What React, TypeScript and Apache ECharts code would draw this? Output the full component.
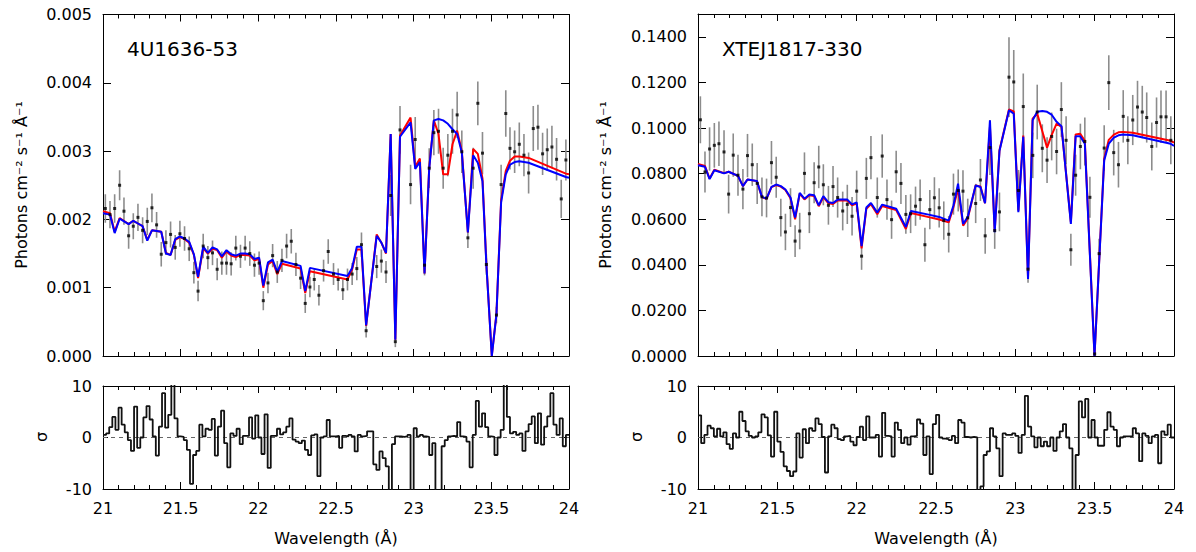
import React, { useEffect, useRef } from "react";
import * as echarts from "echarts";

const FONT = "DejaVu Sans";

// ---------- Left panel: 4U1636-53 (flux in units of 1e-3) ----------
const LEFT_UNIT = 1e-3;
const LEFT_WL = [21.015, 21.045, 21.075, 21.107, 21.135, 21.165, 21.195, 21.225, 21.255, 21.285, 21.315, 21.345, 21.375, 21.405, 21.435, 21.465, 21.495, 21.525, 21.555, 21.585, 21.612, 21.645, 21.675, 21.705, 21.735, 21.765, 21.795, 21.825, 21.855, 21.885, 21.915, 21.945, 21.975, 22.005, 22.032, 22.062, 22.092, 22.122, 22.152, 22.182, 22.212, 22.242, 22.272, 22.302, 22.332, 22.36, 22.39, 22.42, 22.45, 22.484, 22.514, 22.544, 22.574, 22.604, 22.634, 22.664, 22.694, 22.762, 22.792, 22.822, 22.852, 22.882, 22.912, 22.98, 23.01, 23.07, 23.1, 23.13, 23.16, 23.19, 23.22, 23.25, 23.28, 23.31, 23.349, 23.383, 23.413, 23.443, 23.468, 23.533, 23.563, 23.593, 23.62, 23.65, 23.68, 23.71, 23.74, 23.77, 23.8, 23.83, 23.86, 23.89, 23.92, 23.95, 23.98];
const LEFT_FLUX = [2.16, 2.07, 2.16, 2.50, 2.12, 1.76, 1.90, 2.03, 1.84, 1.97, 2.17, 1.92, 1.49, 1.66, 1.78, 1.59, 1.79, 1.72, 1.57, 1.22, 0.95, 1.61, 1.44, 1.51, 1.27, 1.36, 1.36, 1.35, 1.58, 1.46, 1.58, 1.50, 1.33, 1.36, 0.81, 1.07, 1.47, 1.23, 1.40, 1.61, 1.68, 1.34, 1.14, 0.77, 1.01, 1.12, 0.89, 1.25, 1.53, 1.20, 1.12, 0.97, 1.12, 1.20, 1.28, 1.63, 0.37, 1.31, 1.39, 1.23, 2.35, 0.21, 3.31, 2.51, 3.17, 1.33, 2.75, 3.27, 3.29, 2.75, 2.94, 3.29, 3.53, 2.99, 1.73, 2.75, 3.70, 2.97, 1.34, 0.60, 2.51, 3.55, 3.04, 2.99, 3.10, 2.94, 2.68, 3.33, 3.35, 2.96, 3.02, 3.06, 2.88, 2.30, 2.87];
const LEFT_ERR = [0.21, 0.2, 0.21, 0.22, 0.2, 0.19, 0.19, 0.2, 0.19, 0.2, 0.21, 0.19, 0.18, 0.18, 0.19, 0.18, 0.19, 0.18, 0.18, 0.16, 0.15, 0.18, 0.17, 0.18, 0.16, 0.17, 0.17, 0.17, 0.18, 0.17, 0.18, 0.18, 0.17, 0.17, 0.14, 0.15, 0.17, 0.16, 0.17, 0.18, 0.18, 0.17, 0.16, 0.14, 0.15, 0.16, 0.15, 0.16, 0.18, 0.16, 0.16, 0.15, 0.16, 0.16, 0.17, 0.18, 0.1, 0.17, 0.17, 0.16, 0.3, 0.08, 0.35, 0.29, 0.33, 0.15, 0.29, 0.33, 0.33, 0.3, 0.31, 0.33, 0.34, 0.31, 0.15, 0.3, 0.32, 0.31, 0.15, 0.12, 0.29, 0.34, 0.31, 0.31, 0.32, 0.31, 0.3, 0.33, 0.33, 0.31, 0.31, 0.31, 0.31, 0.28, 0.3];
const LEFT_MODEL_WL = [21.0, 21.045, 21.075, 21.107, 21.165, 21.195, 21.225, 21.255, 21.285, 21.315, 21.375, 21.405, 21.435, 21.465, 21.495, 21.525, 21.555, 21.585, 21.612, 21.645, 21.675, 21.705, 21.735, 21.765, 21.795, 21.825, 21.855, 21.885, 21.915, 21.945, 21.975, 22.005, 22.032, 22.062, 22.092, 22.122, 22.152, 22.272, 22.302, 22.332, 22.574, 22.604, 22.634, 22.664, 22.694, 22.762, 22.792, 22.822, 22.852, 22.882, 22.912, 22.98, 23.01, 23.04, 23.07, 23.1, 23.13, 23.16, 23.19, 23.22, 23.25, 23.28, 23.31, 23.349, 23.383, 23.413, 23.443, 23.468, 23.503, 23.533, 23.563, 23.593, 23.62, 23.65, 23.68, 23.74, 23.98, 24.0];
const LEFT_MODEL_BLUE = [2.09, 2.07, 1.80, 2.01, 1.93, 1.98, 1.94, 1.90, 1.69, 1.84, 1.82, 1.50, 1.48, 1.71, 1.75, 1.72, 1.67, 1.49, 1.16, 1.60, 1.51, 1.59, 1.56, 1.46, 1.55, 1.49, 1.47, 1.50, 1.50, 1.49, 1.42, 1.44, 1.03, 1.37, 1.41, 1.23, 1.39, 1.32, 0.95, 1.29, 1.17, 1.29, 1.60, 1.60, 0.45, 1.76, 1.66, 1.51, 3.25, 0.24, 3.21, 3.42, 2.74, 2.84, 1.21, 2.74, 3.45, 3.47, 3.45, 3.40, 3.32, 3.25, 2.98, 1.81, 2.94, 2.83, 2.56, 1.34, 0.0, 0.61, 2.25, 2.66, 2.80, 2.84, 2.85, 2.83, 2.62, 2.61];
const LEFT_MODEL_RED = [2.12, 2.09, 1.82, 2.02, 1.93, 1.98, 1.94, 1.90, 1.70, 1.84, 1.82, 1.51, 1.48, 1.70, 1.74, 1.71, 1.66, 1.48, 1.14, 1.58, 1.50, 1.57, 1.55, 1.44, 1.53, 1.47, 1.45, 1.48, 1.48, 1.47, 1.40, 1.42, 1.00, 1.34, 1.39, 1.20, 1.35, 1.28, 0.92, 1.24, 1.12, 1.27, 1.56, 1.56, 0.44, 1.78, 1.66, 1.50, 3.25, 0.24, 3.23, 3.49, 2.77, 2.89, 1.21, 2.76, 3.45, 3.25, 2.66, 2.66, 3.10, 3.30, 3.00, 1.81, 3.03, 2.96, 2.60, 1.36, 0.0, 0.62, 2.28, 2.71, 2.86, 2.92, 2.92, 2.90, 2.67, 2.66];

// ---------- Right panel: XTEJ1817-330 (flux in units of 1e-2) ----------
const RIGHT_UNIT = 1e-2;
const RIGHT_WL = [21.015, 21.044, 21.073, 21.103, 21.132, 21.164, 21.193, 21.222, 21.252, 21.283, 21.312, 21.342, 21.373, 21.403, 21.432, 21.463, 21.493, 21.522, 21.551, 21.583, 21.612, 21.641, 21.671, 21.702, 21.732, 21.761, 21.79, 21.822, 21.851, 21.88, 21.912, 21.941, 21.971, 22.0, 22.031, 22.061, 22.09, 22.13, 22.161, 22.191, 22.22, 22.249, 22.279, 22.31, 22.34, 22.371, 22.4, 22.43, 22.461, 22.49, 22.52, 22.549, 22.58, 22.61, 22.64, 22.67, 22.7, 22.75, 22.78, 22.81, 22.84, 22.87, 22.9, 22.96, 22.99, 23.02, 23.05, 23.08, 23.11, 23.138, 23.17, 23.2, 23.229, 23.26, 23.29, 23.32, 23.35, 23.38, 23.41, 23.438, 23.47, 23.5, 23.528, 23.56, 23.589, 23.62, 23.65, 23.68, 23.709, 23.74, 23.77, 23.8, 23.828, 23.86, 23.89, 23.918, 23.95, 23.98];
const RIGHT_FLUX = [10.36, 8.07, 9.08, 9.24, 9.31, 8.95, 7.10, 8.81, 7.93, 7.32, 8.79, 8.39, 7.57, 6.98, 6.93, 8.48, 7.84, 6.07, 5.44, 6.51, 5.04, 5.48, 8.01, 6.24, 7.60, 8.29, 7.51, 6.61, 7.43, 6.95, 6.36, 6.65, 6.13, 7.23, 4.38, 7.79, 8.70, 6.95, 8.77, 6.86, 5.98, 8.08, 7.57, 6.21, 6.24, 6.57, 6.86, 4.88, 6.42, 6.94, 6.50, 5.94, 5.34, 7.10, 7.26, 7.23, 6.06, 6.69, 7.72, 5.27, 9.14, 5.50, 6.32, 12.23, 12.02, 7.26, 10.94, 3.81, 8.80, 10.70, 9.11, 8.59, 9.63, 8.97, 10.81, 9.46, 4.66, 7.93, 9.19, 9.41, 6.96, 0.09, 4.49, 9.12, 11.99, 8.92, 8.39, 10.51, 9.46, 10.35, 10.92, 10.70, 10.46, 9.19, 10.24, 10.49, 10.49, 9.46];
const RIGHT_ERR = [1.03, 0.9, 0.95, 0.98, 0.98, 0.95, 0.85, 0.95, 0.9, 0.88, 0.95, 0.93, 0.9, 0.85, 0.85, 0.95, 0.9, 0.83, 0.8, 0.85, 0.7, 0.8, 0.92, 0.85, 0.9, 0.93, 0.9, 0.85, 0.9, 0.88, 0.85, 0.86, 0.84, 0.9, 0.6, 0.9, 0.95, 0.88, 0.95, 0.88, 0.84, 0.92, 0.9, 0.85, 0.85, 0.86, 0.88, 0.75, 0.86, 0.9, 0.86, 0.84, 0.8, 0.9, 0.92, 0.92, 0.84, 0.86, 0.92, 0.78, 1.2, 0.8, 0.85, 1.75, 1.4, 0.9, 1.45, 0.6, 1.0, 1.2, 1.05, 1.0, 1.05, 1.0, 1.2, 1.05, 0.7, 0.9, 1.0, 1.05, 0.9, 0.1, 0.65, 1.0, 1.2, 1.0, 1.0, 1.15, 1.05, 1.1, 1.15, 1.15, 1.1, 1.05, 1.1, 1.15, 1.15, 1.05];
const RIGHT_MODEL_WL = [21.0, 21.044, 21.073, 21.103, 21.164, 21.193, 21.252, 21.283, 21.312, 21.371, 21.403, 21.432, 21.463, 21.493, 21.522, 21.551, 21.583, 21.612, 21.641, 21.671, 21.702, 21.732, 21.761, 21.79, 21.822, 21.851, 21.88, 21.941, 21.971, 22.0, 22.031, 22.061, 22.09, 22.13, 22.161, 22.249, 22.31, 22.342, 22.461, 22.52, 22.58, 22.61, 22.639, 22.671, 22.7, 22.75, 22.78, 22.809, 22.84, 22.87, 22.9, 22.96, 22.99, 23.019, 23.05, 23.08, 23.109, 23.138, 23.17, 23.2, 23.228, 23.26, 23.291, 23.35, 23.38, 23.409, 23.438, 23.499, 23.56, 23.589, 23.621, 23.65, 23.679, 23.74, 23.979, 24.0];
const RIGHT_MODEL_BLUE = [8.37, 8.30, 7.76, 8.15, 8.01, 8.08, 7.90, 7.45, 7.74, 7.68, 6.98, 6.90, 7.42, 7.52, 7.45, 7.30, 6.95, 6.07, 7.15, 6.90, 7.08, 7.05, 6.61, 7.01, 6.74, 6.71, 6.86, 6.86, 6.65, 6.74, 4.82, 6.51, 6.71, 6.29, 6.64, 6.46, 5.66, 6.36, 6.19, 6.10, 5.94, 6.60, 7.56, 5.79, 6.10, 7.48, 7.41, 6.70, 10.34, 5.43, 8.99, 10.78, 10.63, 6.31, 9.61, 3.38, 10.34, 10.71, 10.75, 10.71, 10.59, 10.27, 10.08, 5.79, 9.64, 9.64, 9.31, 0.0, 8.58, 9.31, 9.58, 9.68, 9.71, 9.68, 9.31, 9.22];
const RIGHT_MODEL_RED = [8.42, 8.33, 7.78, 8.17, 8.02, 8.08, 7.90, 7.45, 7.74, 7.67, 6.97, 6.89, 7.41, 7.50, 7.43, 7.28, 6.92, 6.00, 7.12, 6.87, 7.05, 7.02, 6.57, 6.97, 6.70, 6.67, 6.82, 6.82, 6.61, 6.70, 4.72, 6.46, 6.66, 6.22, 6.58, 6.40, 5.57, 6.27, 6.08, 5.99, 5.86, 6.53, 7.33, 5.72, 6.03, 7.48, 7.44, 6.70, 10.05, 5.50, 9.02, 10.81, 10.73, 6.38, 9.67, 3.45, 10.41, 10.63, 9.86, 9.14, 9.68, 10.19, 10.05, 5.87, 9.72, 9.75, 9.44, 0.0, 8.65, 9.48, 9.71, 9.81, 9.83, 9.79, 9.44, 9.36];

// ---------- Residuals (sigma), bins of 0.02 Å starting at 21 Å ----------
const RESID_START = 21.0;
const RESID_BIN = 0.02;
const LEFT_RESID = [0.5, 0.8, 2, 4, 1.5, 5.8, 2.5, 1, -0.5, -2.6, 6, -2, 0, 3.9, 6.1, 3.5, 0.2, -3.5, 2.1, 8.6, 1.9, 4.4, 10.5, 3.7, 0.2, 0.1, -0.5, -2.4, -9, -3.4, -2.6, 2.5, 0.2, 1.7, 1.5, 3.6, -3.5, 2.1, 5.2, -1.1, -5.8, 0.8, 0.3, 1.7, -1.3, 0.3, 0.3, 3.9, -0.2, 4.3, 0, -3.2, 4.5, -5.9, 0.3, 0.3, 1.7, 0.6, 1, 2.1, 3.7, -0.4, -0.8, -1.1, -0.6, -2.4, -3.4, 0.4, 0.6, -7.5, 0, 0.2, 3.4, 0.2, 0.2, 0.3, -2, 0.3, 0.2, 0.5, 0.2, -2.7, 0.5, 0.2, 0.3, 1.2, 1.2, -5.2, -6.3, -2.7, -4, -5.6, -10.5, -1.3, 0.2, 0.2, 0.1, 0.2, 0.5, -10.5, 1.8, 0.2, 0.5, 0.2, 0.1, -3.4, -1.1, -10.5, -10.5, -1.7, -0.5, 0.2, 0.3, 0.2, 3, 0.2, 0.1, -0.8, -5.8, 0.5, 7.1, 2.1, 4.7, 2, 0.2, 0.1, -3.4, 0, 1.5, 10.5, 4, 0.8, 1.1, 0.5, 0.8, -2.6, 1.2, 2.6, 4.1, -1.1, 4.7, -1.4, 2.1, 4.1, 8.6, 2.5, 0.5, 3.7, -1.7, 0.5];
const RIGHT_RESID = [4.3, -1.1, 0.5, 2.3, 1.8, 0.2, 1.7, 0.2, 1, -1.3, -2.2, 0.8, 0, 5, 3.2, 1.2, 0.3, 0, 0.2, 1, 4.5, 3.9, 0.4, -3.7, 5, -0.8, -2.8, -5.6, -6.5, -7.5, -6.6, 0.8, -3.9, 1.6, -1.1, 1.8, 1.3, 3.7, 2.6, 0.1, -6.8, 0.2, 2.5, 1.8, -0.3, -0.5, 0.2, 0.3, -0.8, -1.5, 0.1, 2.1, -0.5, 4.1, 0, 0, 0.5, -3.7, 4.8, 0.3, 0.2, -3.7, 2.9, 1.5, -1.1, 0, -1.4, 0.2, 0.3, 3.5, 2.7, -3.4, 0.2, -7.1, 2.6, 4.4, 0, -0.2, -0.3, -0.5, 0.3, -1.1, 3.4, 2.9, 0.1, 0, 0.1, 0, -10.5, -9.5, -3.4, -2.7, 1.8, 0.2, -2.1, -7.5, 0.8, 0.5, 0.5, 0.8, 0.3, -3, 0.5, 8.1, 2.1, 0.2, -1.9, 0, -1.7, -0.8, -1.7, 0, -2.6, 0, 1.2, 2.6, 0, -2.1, -10.5, -3.4, 7, 3.9, 7.5, 0, 3.4, 0, -1.6, -1.6, 1.5, 4.9, 2.1, 1.5, -1.7, 0, 0.2, 0.2, 0.2, 1.8, 0.8, -4.6, 0.8, 0.3, -1.1, 0.2, 0.5, -5, 1.2, 0.5, 2.5, 0];

const WL_MIN = 21;
const WL_MAX = 24;
const WL_STEP = 0.5;

const AX_COLOR = "#000";
const LABEL_SIZE = 16;

function xAxis(grid: number, position: string, showLabels: boolean) {
  return {
    type: "value",
    gridIndex: grid,
    position,
    min: WL_MIN,
    max: WL_MAX,
    interval: WL_STEP,
    axisLine: { show: true, onZero: false, lineStyle: { color: AX_COLOR, width: 1 } },
    axisTick: { show: true, inside: true, length: 7, lineStyle: { color: AX_COLOR, width: 1 } },
    minorTick: { show: true, splitNumber: 5, length: 4, lineStyle: { color: AX_COLOR, width: 1 } },
    splitLine: { show: false },
    minorSplitLine: { show: false },
    axisLabel: {
      show: showLabels,
      color: "#000",
      fontSize: LABEL_SIZE,
      fontFamily: FONT,
      margin: 11,
      formatter: (v: number) => String(Math.round(v * 10) / 10),
    },
  };
}

function yAxis(grid: number, position: string, min: number, max: number, interval: number, showLabels: boolean, digits: number, tickLen: number) {
  return {
    type: "value",
    gridIndex: grid,
    position,
    min,
    max,
    interval,
    axisLine: { show: true, onZero: false, lineStyle: { color: AX_COLOR, width: 1 } },
    axisTick: { show: true, inside: true, length: tickLen, lineStyle: { color: AX_COLOR, width: 1 } },
    splitLine: { show: false },
    axisLabel: {
      show: showLabels,
      color: "#000",
      fontSize: LABEL_SIZE,
      fontFamily: FONT,
      margin: 11,
      showMaxLabel: max - Math.floor(max / interval + 1e-9) * interval < interval * 1e-6,
      formatter: (v: number) => (digits > 0 ? v.toFixed(digits) : String(Math.round(v))),
    },
  };
}

function mainSeries(xi: number, yi: number, unit: number, wl: number[], flux: number[], err: number[], mwl: number[], blue: number[], red: number[]) {
  const errData = wl.map((w, i) => [w, (flux[i] - err[i]) * unit, (flux[i] + err[i]) * unit]);
  const pts = wl.map((w, i) => [w, flux[i] * unit]);
  return [
    {
      type: "custom",
      xAxisIndex: xi,
      yAxisIndex: yi,
      clip: true,
      z: 2,
      encode: { x: 0, y: [1, 2] },
      renderItem: (params: any, api: any) => {
        const p1 = api.coord([api.value(0), api.value(1)]);
        const p2 = api.coord([api.value(0), api.value(2)]);
        return {
          type: "line",
          shape: { x1: p1[0], y1: p1[1], x2: p2[0], y2: p2[1] },
          style: { stroke: "#8c8c8c", lineWidth: 1.6 },
        };
      },
      data: errData,
    },
    {
      type: "line",
      xAxisIndex: xi,
      yAxisIndex: yi,
      z: 3,
      showSymbol: false,
      symbol: "none",
      lineStyle: { color: "#ff0000", width: 2 },
      data: mwl.map((w, i) => [w, red[i] * unit]),
    },
    {
      type: "line",
      xAxisIndex: xi,
      yAxisIndex: yi,
      z: 4,
      showSymbol: false,
      symbol: "none",
      lineStyle: { color: "#0000ff", width: 2 },
      data: mwl.map((w, i) => [w, blue[i] * unit]),
    },
    {
      type: "scatter",
      xAxisIndex: xi,
      yAxisIndex: yi,
      z: 5,
      symbol: "rect",
      symbolSize: 3,
      itemStyle: { color: "#000" },
      data: pts,
    },
  ];
}

function residSeries(xi: number, yi: number, resid: number[]) {
  const data = resid.map((r, i) => [RESID_START + i * RESID_BIN, r]);
  data.push([WL_MAX, resid[resid.length - 1]]);
  return [
    {
      type: "line",
      xAxisIndex: xi,
      yAxisIndex: yi,
      z: 2,
      showSymbol: false,
      symbol: "none",
      lineStyle: { color: "#666", width: 1, type: [4, 4] },
      data: [[WL_MIN, 0], [WL_MAX, 0]],
    },
    {
      type: "line",
      xAxisIndex: xi,
      yAxisIndex: yi,
      z: 3,
      step: "end",
      showSymbol: false,
      symbol: "none",
      clip: true,
      lineStyle: { color: "#111", width: 1.8 },
      data,
    },
  ];
}

function txt(x: number, y: number, text: string, size: number, rotate = 0, align = "center") {
  return {
    type: "text",
    x,
    y,
    rotation: rotate,
    silent: true,
    style: { text, fontSize: size, fontFamily: FONT, fill: "#000", align, verticalAlign: "middle" },
  };
}

export default function App() {
  const ref = useRef<HTMLDivElement>(null);
  useEffect(() => {
    if (!ref.current) return;
    const chart = echarts.init(ref.current, undefined, { renderer: "svg" });
    const option: any = {
      animation: false,
      backgroundColor: "#fff",
      textStyle: { fontFamily: FONT },
      grid: [
        { left: 103, top: 14.5, width: 466, height: 341.5, outerBoundsMode: "none" },
        { left: 103, top: 386, width: 466, height: 103, outerBoundsMode: "none" },
        { left: 698, top: 14, width: 476, height: 342, outerBoundsMode: "none" },
        { left: 698, top: 386, width: 476, height: 103, outerBoundsMode: "none" },
      ],
      xAxis: [
        xAxis(0, "bottom", false),
        xAxis(0, "top", false),
        xAxis(1, "bottom", true),
        xAxis(1, "top", false),
        xAxis(2, "bottom", false),
        xAxis(2, "top", false),
        xAxis(3, "bottom", true),
        xAxis(3, "top", false),
      ],
      yAxis: [
        yAxis(0, "left", 0, 0.005, 0.001, true, 3, 8),
        yAxis(0, "right", 0, 0.005, 0.001, false, 3, 8),
        yAxis(1, "left", -10, 10, 10, true, 0, 5),
        yAxis(1, "right", -10, 10, 10, false, 0, 5),
        yAxis(2, "left", 0, 0.15, 0.02, true, 4, 8),
        yAxis(2, "right", 0, 0.15, 0.02, false, 4, 8),
        yAxis(3, "left", -10, 10, 10, true, 0, 5),
        yAxis(3, "right", -10, 10, 10, false, 0, 5),
      ],
      series: [
        ...mainSeries(0, 0, LEFT_UNIT, LEFT_WL, LEFT_FLUX, LEFT_ERR, LEFT_MODEL_WL, LEFT_MODEL_BLUE, LEFT_MODEL_RED),
        ...residSeries(2, 2, LEFT_RESID),
        ...mainSeries(4, 4, RIGHT_UNIT, RIGHT_WL, RIGHT_FLUX, RIGHT_ERR, RIGHT_MODEL_WL, RIGHT_MODEL_BLUE, RIGHT_MODEL_RED),
        ...residSeries(6, 6, RIGHT_RESID),
      ],
      graphic: [
        txt(127, 49, "4U1636-53", 20, 0, "left"),
        txt(722, 49, "XTEJ1817-330", 20, 0, "left"),
        txt(21, 185, "Photons cm\u207B\u00B2 s\u207B\u00B9 \u00C5\u207B\u00B9", LABEL_SIZE, Math.PI / 2),
        txt(605, 185, "Photons cm\u207B\u00B2 s\u207B\u00B9 \u00C5\u207B\u00B9", LABEL_SIZE, Math.PI / 2),
        txt(41, 437, "\u03C3", LABEL_SIZE, Math.PI / 2),
        txt(636, 437, "\u03C3", LABEL_SIZE, Math.PI / 2),
        txt(336, 538, "Wavelength (\u00C5)", LABEL_SIZE),
        txt(936, 538, "Wavelength (\u00C5)", LABEL_SIZE),
      ],
    };
    chart.setOption(option);
    return () => chart.dispose();
  }, []);
  return <div ref={ref} style={{ position: "fixed", left: 0, top: 0, width: 1196, height: 552, background: "#fff" }} />;
}
